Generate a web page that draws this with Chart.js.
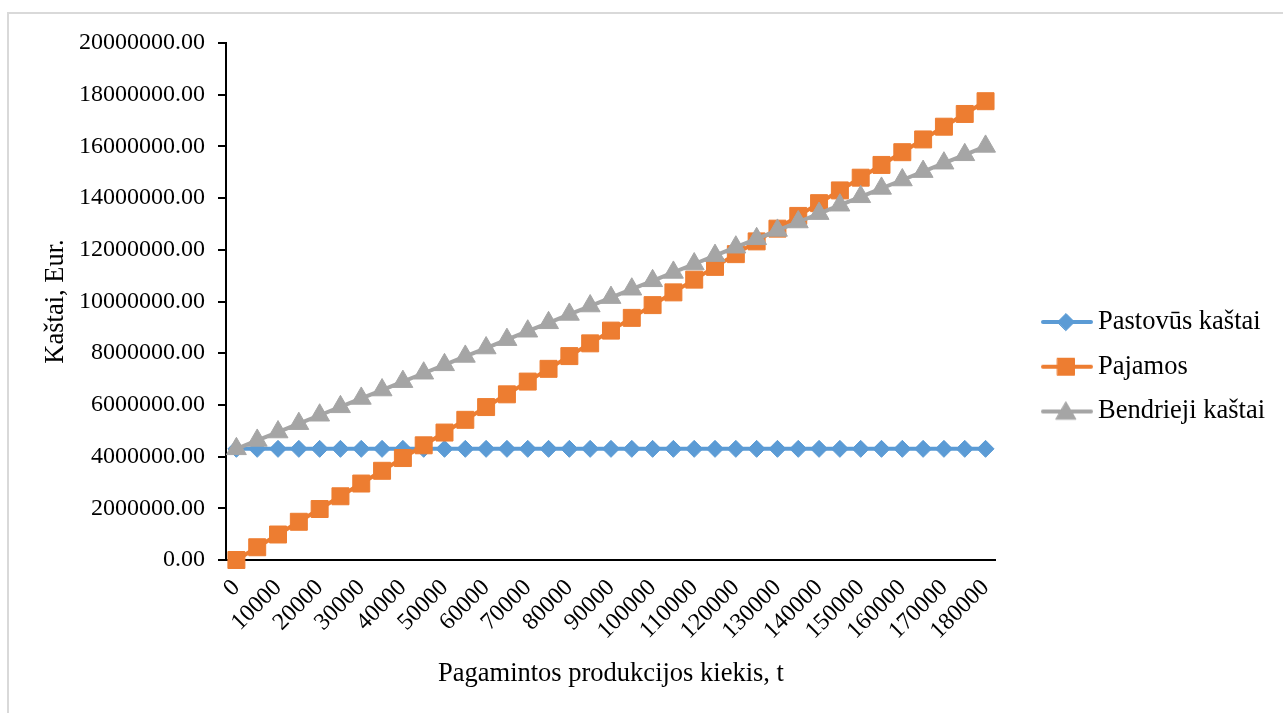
<!DOCTYPE html>
<html>
<head>
<meta charset="utf-8">
<script src="https://cdn.jsdelivr.net/npm/chart.js@4.4.1/dist/chart.umd.min.js"></script>
<style>
  html, body { margin: 0; padding: 0; background: #ffffff; overflow: hidden; }
  #wrap { position: relative; width: 1283px; height: 713px; }
  #frame { position: absolute; left: 7px; top: 12px; width: 1320px; height: 740px;
           border: 2px solid #d9d9d9; box-sizing: border-box; pointer-events: none; }
  canvas { position: absolute; left: 0; top: 0; }
</style>
</head>
<body>
<div id="wrap">
  <div id="frame"></div>
  <canvas id="chart" width="1283" height="713"></canvas>
</div>
<script>
// Produced quantity, t
const quantities = [0, 5000, 10000, 15000, 20000, 25000, 30000, 35000, 40000, 45000,
  50000, 55000, 60000, 65000, 70000, 75000, 80000, 85000, 90000, 95000,
  100000, 105000, 110000, 115000, 120000, 125000, 130000, 135000, 140000, 145000,
  150000, 155000, 160000, 165000, 170000, 175000, 180000];

// Fixed costs, Eur.
const fixedCosts = [4300000, 4300000, 4300000, 4300000, 4300000, 4300000, 4300000, 4300000,
  4300000, 4300000, 4300000, 4300000, 4300000, 4300000, 4300000, 4300000, 4300000, 4300000,
  4300000, 4300000, 4300000, 4300000, 4300000, 4300000, 4300000, 4300000, 4300000, 4300000,
  4300000, 4300000, 4300000, 4300000, 4300000, 4300000, 4300000, 4300000, 4300000];

// Revenue, Eur.
const revenue = [0, 493000, 986000, 1479000, 1972000, 2465000, 2958000, 3451000, 3944000,
  4437000, 4930000, 5423000, 5916000, 6409000, 6902000, 7395000, 7888000, 8381000, 8874000,
  9367000, 9860000, 10353000, 10846000, 11339000, 11832000, 12325000, 12818000, 13311000,
  13804000, 14297000, 14790000, 15283000, 15776000, 16269000, 16762000, 17255000, 17748000];

// Total costs, Eur.
const totalCosts = [4300000, 4625000, 4950000, 5275000, 5600000, 5925000, 6250000, 6575000,
  6900000, 7225000, 7550000, 7875000, 8200000, 8525000, 8850000, 9175000, 9500000, 9825000,
  10150000, 10475000, 10800000, 11125000, 11450000, 11775000, 12100000, 12425000, 12750000,
  13075000, 13400000, 13725000, 14050000, 14375000, 14700000, 15025000, 15350000, 15675000,
  16000000];

const seriesNames = ['Pastovūs kaštai', 'Pajamos', 'Bendrieji kaštai'];

const yTickMin = 0;
const yTickMax = 20000000;
const yTickStep = 2000000;

const xTitle = 'Pagamintos produkcijos kiekis, t';
const yTitle = 'Kaštai, Eur.';

const FONT = '"Liberation Serif", "Times New Roman", serif';
const BLUE = '#5b9bd5', ORANGE = '#ed7d31', GREY = '#a5a5a5';

// marker geometry shared by the plot and the legend swatches
const markers = [
  { style: 'rectRot', radius: 8.5 },
  { style: 'rect', radius: 12 },
  { style: 'triangle', radius: 11.5 }
];

function traceMarker(ctx, style, r, x, y) {
  ctx.beginPath();
  if (style === 'rectRot') {
    ctx.moveTo(x - r, y); ctx.lineTo(x, y - r); ctx.lineTo(x + r, y); ctx.lineTo(x, y + r);
  } else if (style === 'rect') {
    const s = Math.SQRT1_2 * r;
    ctx.rect(x - s, y - s, 2 * s, 2 * s);
  } else {
    const w = r * Math.sin(2 * Math.PI / 3);
    ctx.moveTo(x, y - r); ctx.lineTo(x + w, y + r / 2); ctx.lineTo(x - w, y + r / 2);
  }
  ctx.closePath();
}

// legend swatch: a short line with the series marker in its middle
function swatch(color, marker) {
  const c = document.createElement('canvas');
  c.width = 87; c.height = 28;
  const ctx = c.getContext('2d');
  ctx.strokeStyle = color; ctx.lineWidth = 4; ctx.lineCap = 'round';
  ctx.beginPath(); ctx.moveTo(37, 14); ctx.lineTo(85, 14); ctx.stroke();
  ctx.fillStyle = color; ctx.lineWidth = 1;
  traceMarker(ctx, marker.style, marker.radius, 60, marker.style === 'triangle' ? 16 : 14);
  ctx.fill(); ctx.stroke();
  return c;
}

const colors = [BLUE, ORANGE, GREY];
const values = [fixedCosts, revenue, totalCosts];

const datasets = seriesNames.map((name, i) => ({
  label: name,
  data: values[i],
  borderColor: colors[i],
  backgroundColor: colors[i],
  borderWidth: 4,
  pointStyle: markers[i].style,
  pointRadius: markers[i].radius,
  pointHoverRadius: markers[i].radius,
  pointBorderWidth: 1,
  pointBackgroundColor: colors[i],
  pointBorderColor: colors[i],
  tension: 0,
  clip: false,
  order: 3 - i
}));

Chart.defaults.color = '#000000';
Chart.defaults.font.family = FONT;

new Chart(document.getElementById('chart'), {
  type: 'line',
  data: { labels: quantities.map(String), datasets },
  options: {
    responsive: false,
    animation: false,
    devicePixelRatio: 1,
    layout: { padding: { left: 36, top: 43, right: 8, bottom: 22.5 } },
    plugins: {
      tooltip: { enabled: false },
      legend: {
        position: 'right',
        labels: {
          usePointStyle: true,
          pointStyleWidth: 70.5,
          padding: 18.25,
          color: '#000000',
          font: { family: FONT, size: 26.5 },
          generateLabels(chart) {
            return chart.data.datasets.map((ds, i) => ({
              text: ds.label,
              fillStyle: ds.backgroundColor,
              strokeStyle: ds.borderColor,
              lineWidth: 0,
              fontColor: '#000000',
              pointStyle: swatch(ds.borderColor, markers[i]),
              hidden: !chart.isDatasetVisible(i),
              datasetIndex: i
            }));
          }
        }
      }
    },
    scales: {
      x: {
        type: 'category',
        offset: true,
        grid: { display: false, drawTicks: false },
        border: { display: true, color: '#000000', width: 2 },
        ticks: {
          autoSkip: false,
          minRotation: 45,
          maxRotation: 45,
          padding: 14,
          color: '#000000',
          font: { family: FONT, size: 24 },
          callback(value, index) { return index % 2 === 0 ? this.getLabelForValue(value) : ''; }
        },
        title: { display: true, text: xTitle, color: '#000000',
                 font: { family: FONT, size: 26.5 }, padding: { top: 0, bottom: 1 } },
        afterFit(scale) { scale.height = 130.5; }
      },
      y: {
        min: yTickMin,
        max: yTickMax,
        grid: { display: true, drawOnChartArea: false, drawTicks: true, tickLength: 8,
                color: '#000000', lineWidth: 2 },
        border: { display: true, color: '#000000', width: 2 },
        ticks: {
          stepSize: yTickStep,
          padding: 13,
          color: '#000000',
          font: { family: FONT, size: 24 },
          callback(value) { return Number(value).toFixed(2); }
        },
        title: { display: true, text: yTitle, color: '#000000',
                 font: { family: FONT, size: 26.5 }, padding: { top: 4, bottom: 0 } },
        afterFit(scale) { scale.width = 190; }
      }
    }
  }
});
</script>
</body>
</html>
